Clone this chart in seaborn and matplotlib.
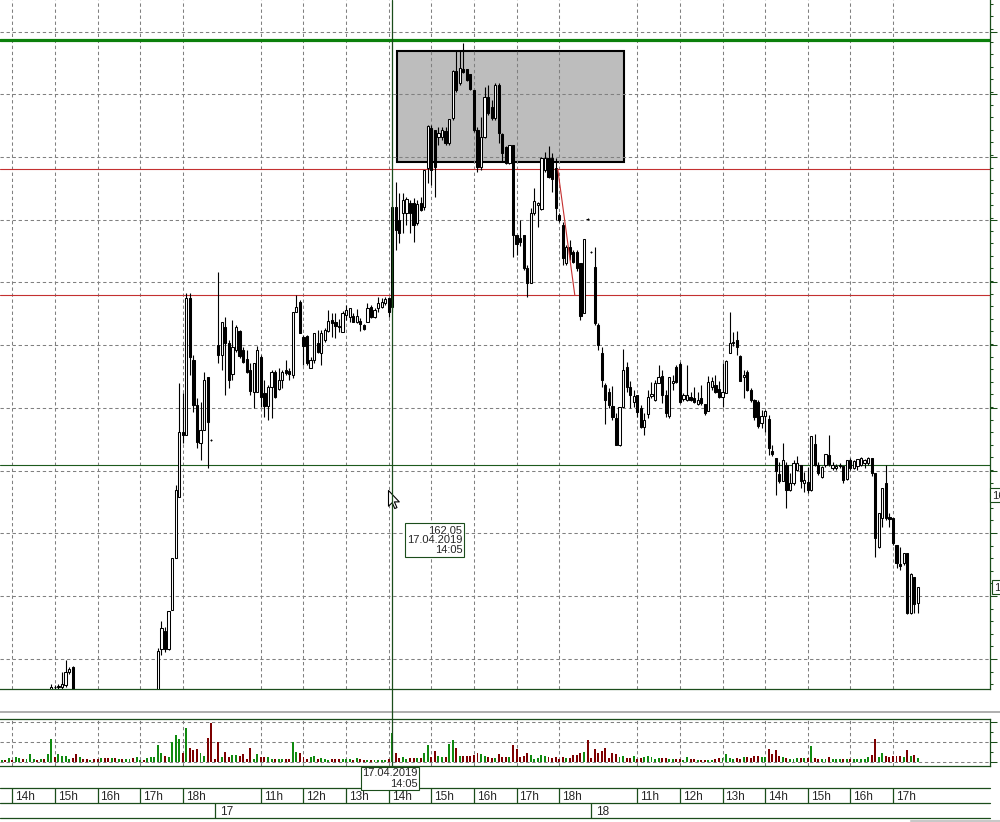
import numpy as np
import pandas as pd
import matplotlib
matplotlib.use("Agg")
import matplotlib.pyplot as plt
import seaborn as sns
from matplotlib.lines import Line2D
from matplotlib.patches import Rectangle
from matplotlib.path import Path
from matplotlib.ticker import AutoMinorLocator, FixedLocator, NullFormatter

NA = np.nan  # no trade printed in that 5-minute slot

# ---------------- sessions (5-minute candles) ----------------
session_dates = ["2019-04-16", "2019-04-17", "2019-04-18"]
session_labels = ["16", "17", "18"]
session_first = ["13:45", "10:00", "10:00"]
session_last = ["18:45", "18:45", "17:35"]

# ---------------- 16.04 ----------------
open_16 = [159.85, 159.88, 159.86, 159.93, 159.90, 159.97, 159.99, 159.97, 160.01, 160.05,
           160.06, 160.03, 160.06, 159.95, 160.00, 160.13, 160.13, 160.13, 160.15, 160.28,
           160.33, 159.98, 159.93, 159.95, 159.92, 159.88, 159.91, 159.89, 159.86, 159.88,
           159.87, 159.84, 159.86, 159.85, 159.89, 159.87, 159.90, 159.92, 159.91, 159.95,
           159.97, 159.94, 159.98, 160.01, 160.04, 160.51, 160.69, 160.51, 160.90, 161.42,
           162.03, 162.68, 162.65, 164.02, 163.40, 162.95, 162.57, 162.70, 163.23, 162.60,
           NA]
high_16 = [159.90, 159.92, 159.95, 159.96, 159.98, 160.00, 160.02, 160.03, 160.06, 160.07,
           160.08, 160.07, 160.08, 160.02, 160.16, 160.15, 160.16, 160.28, 160.40, 160.33,
           160.34, 160.02, 159.97, 159.99, 159.96, 159.93, 159.94, 159.92, 159.90, 159.91,
           159.90, 159.88, 159.89, 159.90, 159.92, 159.91, 159.94, 159.95, 159.96, 159.99,
           160.00, 159.99, 160.03, 160.06, 160.52, 160.79, 160.73, 160.89, 161.42, 162.15,
           163.17, 163.07, 164.07, 164.07, 163.45, 163.02, 162.98, 163.28, 163.23, 162.61,
           NA]
low_16 = [159.80, 159.84, 159.85, 159.88, 159.89, 159.94, 159.95, 159.96, 159.98, 160.00,
          160.02, 160.01, 159.93, 159.90, 159.98, 160.11, 160.10, 160.11, 160.13, 160.26,
          159.95, 159.90, 159.88, 159.91, 159.86, 159.85, 159.87, 159.84, 159.83, 159.85,
          159.82, 159.81, 159.83, 159.84, 159.86, 159.85, 159.88, 159.89, 159.90, 159.92,
          159.93, 159.92, 159.95, 159.98, 160.00, 160.45, 160.48, 160.50, 160.90, 161.42,
          162.03, 162.57, 162.65, 163.25, 162.88, 162.52, 162.40, 162.70, 162.32, 162.59,
          NA]
close_16 = [159.88, 159.86, 159.93, 159.90, 159.97, 159.99, 159.97, 160.01, 160.05, 160.06,
            160.03, 160.06, 159.95, 160.00, 160.13, 160.13, 160.14, 160.16, 160.28, 160.31,
            159.98, 159.93, 159.95, 159.92, 159.88, 159.91, 159.89, 159.86, 159.88, 159.87,
            159.84, 159.86, 159.85, 159.89, 159.87, 159.90, 159.92, 159.91, 159.95, 159.97,
            159.94, 159.98, 160.01, 160.04, 160.49, 160.72, 160.51, 160.89, 161.42, 162.10,
            162.68, 162.65, 164.02, 163.43, 162.95, 162.58, 162.70, 163.20, 162.78, 162.60,
            NA]
volume_16 = [100, 100, 200, 100, 250, 200, 150, 150, 400, 150,
             100, 150, 150, 400, 1150, 250, 400, 300, 300, 150,
             200, 400, 250, 150, 150, 100, 150, 150, 200, 200,
             200, 200, 200, 150, 150, 150, 150, 200, 250, 100,
             100, 200, 250, 250, 850, 450, 300, 250, 1000, 1350,
             1150, 450, 1700, 700, 600, 650, 450, 300, 1200, 1950,
             150]

# ---------------- 17.04 ----------------
open_17 = [163.55, 163.45, 163.73, 163.57, 163.26, 163.50, 163.69, 163.50, 163.41, 163.30,
           163.08, 163.08, 163.43, 163.07, 162.94, 163.13, 163.28, 163.11, 163.20, 163.30,
           163.29, 163.25, 163.88, 163.98, 163.63, 163.64, 163.32, 163.40, 163.57, 163.47,
           163.60, 163.69, 163.80, 163.78, 163.74, 163.68, 163.85, 163.83, 163.84, 163.78,
           163.79, 163.75, 163.78, 163.93, 163.83, 163.92, 163.93, 163.97, 164.02, 163.93,
           164.93, 164.80, 164.87, 164.87, 164.97, 164.97, 164.77, 164.97, 164.93, 165.32,
           165.72, 165.70, 165.63, 165.63, 165.69, 165.57, 165.82, 166.29, 166.17, 166.31,
           166.31, 166.26, 166.10, 165.70, 165.33, 165.63, 166.03, 165.93, 165.82, 166.15,
           165.66, 165.53, 165.37, 165.55, 164.65, 164.62, 164.65, 164.32, 164.17, 164.87,
           164.95, 164.91, 165.30, 165.42, 165.42, 165.32, 164.85, 164.75, 164.37, 164.53,
           164.48, 164.48, 164.37, 163.87, 164.81, 164.48]
high_17 = [164.28, 163.78, 163.83, 163.60, 163.80, 163.75, 163.70, 163.53, 163.50, 163.37,
           163.37, 163.54, 163.45, 163.20, 163.15, 163.30, 163.30, 163.32, 163.30, 163.40,
           163.32, 163.88, 164.05, 164.00, 163.65, 163.65, 163.43, 163.67, 163.70, 163.70,
           163.72, 163.90, 163.87, 163.87, 163.81, 163.89, 163.95, 163.92, 163.87, 163.91,
           163.82, 163.76, 163.97, 163.95, 163.92, 164.03, 164.02, 164.03, 164.03, 165.00,
           165.18, 165.07, 165.07, 165.03, 165.00, 165.02, 165.00, 165.03, 165.30, 165.75,
           165.75, 165.70, 165.73, 165.73, 165.73, 165.81, 166.30, 166.49, 166.50, 166.57,
           166.31, 166.26, 166.10, 165.73, 165.83, 166.13, 166.15, 166.00, 166.17, 166.17,
           165.67, 165.54, 165.55, 165.55, 164.65, 164.80, 164.65, 164.35, 164.92, 165.12,
           164.98, 165.43, 165.48, 165.54, 165.47, 165.42, 164.87, 164.78, 164.55, 164.60,
           164.50, 164.50, 164.37, 164.61, 164.82, 164.49]
low_17 = [163.37, 163.30, 163.05, 163.12, 163.20, 163.48, 163.42, 163.37, 163.27, 163.05,
          162.92, 163.08, 162.93, 162.83, 162.80, 162.82, 163.02, 163.10, 163.12, 163.25,
          163.20, 163.22, 163.88, 163.67, 163.35, 163.35, 163.32, 163.37, 163.47, 163.35,
          163.58, 163.68, 163.63, 163.62, 163.68, 163.68, 163.80, 163.78, 163.78, 163.77,
          163.69, 163.70, 163.78, 163.82, 163.82, 163.88, 163.92, 163.95, 163.83, 163.88,
          164.50, 164.57, 164.67, 164.75, 164.67, 164.58, 164.75, 164.89, 164.90, 165.17,
          165.15, 165.03, 165.55, 165.60, 165.55, 165.55, 165.80, 166.08, 166.15, 166.27,
          166.19, 166.10, 165.68, 165.28, 165.30, 165.62, 165.85, 165.80, 165.80, 165.57,
          165.38, 165.36, 165.36, 164.43, 164.45, 164.54, 164.30, 164.03, 164.17, 164.85,
          164.73, 164.90, 165.28, 165.22, 165.08, 164.80, 164.78, 164.35, 164.35, 164.40,
          164.37, 164.29, 163.80, 163.87, 164.80, 164.47]
close_17 = [163.45, 163.78, 163.57, 163.20, 163.53, 163.73, 163.44, 163.38, 163.28, 163.09,
            163.37, 163.50, 163.03, 162.94, 163.13, 163.28, 163.03, 163.20, 163.28, 163.27,
            163.26, 163.88, 163.93, 163.67, 163.54, 163.37, 163.40, 163.67, 163.48, 163.67,
            163.70, 163.79, 163.77, 163.74, 163.73, 163.87, 163.90, 163.92, 163.78, 163.84,
            163.76, 163.71, 163.92, 163.83, 163.90, 163.97, 163.98, 164.01, 163.88, 164.93,
            164.70, 164.67, 165.00, 165.01, 164.87, 164.75, 164.96, 164.90, 165.30, 165.74,
            165.30, 165.33, 165.67, 165.70, 165.57, 165.81, 166.29, 166.10, 166.32, 166.28,
            166.20, 166.11, 165.70, 165.33, 165.63, 166.03, 165.87, 165.82, 166.15, 165.67,
            165.47, 165.37, 165.55, 164.65, 164.56, 164.58, 164.32, 164.17, 164.87, 164.99,
            164.97, 165.42, 165.42, 165.23, 165.21, 164.92, 164.80, 164.42, 164.53, 164.46,
            164.38, 164.32, 163.84, 164.61, 164.81, 164.48]
volume_17 = [1000, 250, 500, 250, 350, 350, 300, 400, 150, 700,
             150, 400, 250, 250, 250, 150, 150, 150, 150, 150,
             150, 1000, 500, 450, 250, 150, 250, 300, 150, 200,
             150, 100, 150, 150, 150, 150, 150, 150, 100, 200,
             150, 100, 100, 100, 100, 100, 100, 100, 150, 1450,
             450, 200, 250, 150, 200, 200, 200, 200, 450, 850,
             250, 550, 300, 250, 250, 900, 1100, 700, 300, 300,
             300, 300, 350, 450, 400, 300, 250, 200, 200, 400,
             235, 235, 235, 850, 635, 235, 300, 435, 350, 150,
             165, 350, 300, 235, 185, 235, 135, 250, 185, 185,
             350, 350, 435, 465, 1100, 185]

# ---------------- 18.04 ----------------
open_18 = [164.33, 163.75, 163.47, 163.15, 163.08, 162.94, 162.82, 162.55, 162.93, 163.33,
           163.13, 162.98, 163.05, 162.92, 162.73, 162.86, 163.04, 163.00, 163.17, 163.24,
           163.05, 162.84, 163.17, 163.33, 163.36, 163.01, 163.00, 163.03, 163.02, 162.96,
           163.02, 162.96, 162.89, 163.13, 163.15, 163.11, 163.03, 163.07, 163.47, 163.57,
           163.60, 163.44, 163.23, 163.28, 163.10, 163.00, 162.98, 162.77, 162.84, 162.81,
           162.49, 162.42, 162.26, 162.19, 162.35, 162.10, 162.17, 162.30, 162.35, 162.17,
           162.18, 162.10, 162.56, 162.35, 162.23, 162.35, 162.45, 162.32, 162.32, 162.34,
           162.34, 162.21, 162.40, 162.32, 162.34, 162.35, 162.37, 162.37, 162.42, 162.27,
           161.53, 161.82, 162.17, 161.83, 161.82, 161.55, 161.36, 161.37, 161.47, 160.87,
           161.23, 160.97]
high_18 = [164.53, 163.77, 163.53, 163.17, 163.12, 163.14, 162.87, 162.93, 163.51, 163.38,
           163.19, 163.10, 163.05, 162.95, 162.87, 163.10, 163.18, 163.20, 163.35, 163.30,
           163.10, 163.23, 163.25, 163.35, 163.38, 163.07, 163.35, 163.08, 163.13, 163.08,
           163.15, 162.96, 163.24, 163.23, 163.25, 163.19, 163.37, 163.40, 163.88, 163.68,
           163.69, 163.45, 163.30, 163.30, 163.12, 163.01, 163.00, 162.90, 162.90, 162.85,
           162.55, 162.42, 162.38, 162.57, 162.38, 162.27, 162.40, 162.44, 162.35, 162.28,
           162.33, 162.64, 162.66, 162.38, 162.34, 162.46, 162.65, 162.38, 162.36, 162.37,
           162.34, 162.40, 162.42, 162.40, 162.41, 162.43, 162.41, 162.43, 162.42, 162.27,
           161.87, 162.12, 162.35, 161.87, 161.82, 161.55, 161.53, 161.47, 161.47, 161.27,
           161.23, 161.13]
low_18 = [163.75, 163.50, 163.13, 162.76, 162.92, 162.80, 162.55, 162.54, 162.93, 163.08,
          162.92, 162.93, 162.83, 162.72, 162.65, 162.82, 163.02, 162.99, 163.17, 162.97,
          162.83, 162.82, 163.10, 163.17, 162.97, 162.99, 162.99, 162.99, 162.97, 162.95,
          162.95, 162.85, 162.89, 163.10, 163.07, 163.02, 162.93, 163.07, 163.47, 163.54,
          163.45, 163.19, 163.02, 163.09, 162.98, 162.80, 162.72, 162.72, 162.68, 162.45,
          162.44, 162.05, 162.17, 162.19, 161.92, 162.09, 162.15, 162.29, 162.12, 162.08,
          162.07, 162.09, 162.34, 162.25, 162.22, 162.33, 162.34, 162.30, 162.30, 162.32,
          162.17, 162.20, 162.30, 162.31, 162.30, 162.34, 162.32, 162.35, 162.24, 161.43,
          161.52, 161.73, 161.80, 161.73, 161.55, 161.32, 161.30, 161.35, 160.86, 160.86,
          160.87, 160.87]
close_18 = [163.77, 163.55, 163.20, 163.00, 162.95, 162.83, 162.55, 162.93, 163.30, 163.13,
            163.05, 163.04, 162.88, 162.73, 162.80, 163.03, 163.06, 163.17, 163.23, 163.05,
            162.87, 163.23, 163.19, 163.18, 162.98, 163.05, 163.05, 163.00, 162.98, 163.00,
            162.97, 162.87, 163.18, 163.19, 163.08, 163.03, 163.08, 163.39, 163.57, 163.58,
            163.53, 163.19, 163.25, 163.10, 163.00, 162.83, 162.74, 162.84, 162.89, 162.52,
            162.46, 162.29, 162.19, 162.40, 162.10, 162.17, 162.37, 162.37, 162.19, 162.20,
            162.10, 162.64, 162.35, 162.27, 162.33, 162.46, 162.36, 162.35, 162.34, 162.35,
            162.20, 162.40, 162.32, 162.39, 162.41, 162.42, 162.40, 162.42, 162.27, 161.62,
            161.87, 162.12, 161.82, 161.81, 161.57, 161.37, 161.34, 161.47, 160.87, 161.26,
            160.96, 161.13]
volume_18 = [635, 435, 515, 685, 185, 435, 400, 235, 300, 185,
             185, 300, 135, 185, 235, 300, 235, 135, 165, 165,
             165, 135, 135, 135, 135, 100, 235, 135, 135, 100,
             100, 100, 100, 100, 135, 185, 185, 400, 185, 135,
             165, 135, 235, 235, 165, 265, 300, 235, 235, 635,
             400, 600, 300, 235, 165, 135, 135, 165, 185, 185,
             185, 765, 165, 135, 135, 135, 235, 135, 135, 135,
             135, 135, 135, 135, 135, 135, 135, 235, 350, 1135,
             235, 435, 300, 235, 300, 300, 300, 235, 600, 300,
             350, 185]

# ---------------- drawn objects ----------------
price_grid = [160.41, 161.04, 161.67, 162.29, 162.92, 163.55, 164.18, 164.80, 165.43, 166.06, 166.68]
volume_grid = [0, 1000, 2000]
resistance_level = 166.60
red_levels = [165.31, 164.05]
support_level = 162.35
zone_start, zone_end = "2019-04-17 14:12", "2019-04-18 10:42"
zone_low, zone_high = 165.38, 166.49
trend_start, trend_start_price = "2019-04-17 17:58", 165.31
trend_end, trend_end_price = "2019-04-17 18:22", 164.05
cursor_time = "2019-04-17 14:05"
cursor_price = 162.05
cursor_text = "162,05"
cursor_date_text = "17.04.2019"
cursor_clock_text = "14:05"

# ---------------- assemble ----------------
times = pd.DatetimeIndex(np.concatenate([
    pd.date_range(f"{d} {a}", f"{d} {b}", freq="5min").values
    for d, a, b in zip(session_dates, session_first, session_last)]))
o = np.array(open_16 + open_17 + open_18, dtype=float)
h = np.array(high_16 + high_17 + high_18, dtype=float)
l = np.array(low_16 + low_17 + low_18, dtype=float)
c = np.array(close_16 + close_17 + close_18, dtype=float)
vol = np.array(volume_16 + volume_17 + volume_18, dtype=float)
n = len(times)
assert len(o) == len(h) == len(l) == len(c) == len(vol) == n, (len(o), len(vol), n)
x = np.arange(n)
up = c > o
ok = ~np.isnan(o)


def time_to_x(ts):
    ts = pd.Timestamp(ts)
    base = ts.floor("5min")
    k = times.get_loc(base)
    return k + (ts - base) / pd.Timedelta("5min")


session_start_idx = [times.get_loc(pd.Timestamp(f"{d} {a}")) for d, a in zip(session_dates, session_first)]
hour_idx, hour_lab = [], []
for k, t in enumerate(times):
    if t.minute == 0 and k not in session_start_idx:
        hour_idx.append(k)
        hour_lab.append(f"{t.hour}h")
day_sep = [s - 1 for s in session_start_idx[1:]]
day_lab = session_labels[1:]

# ---------------- style ----------------
sns.set_style("white")
plt.rcParams["font.family"] = ["Liberation Sans", "DejaVu Sans"]
plt.rcParams["font.size"] = 8

GRID = "#808080"
FRAME = "#1b4d1b"
DASH = (0, (3.2, 2.6))
VOL_UP = "#108a10"
VOL_DN = "#7d0000"
RED = "#c43030"

W, H = 1000, 822
fig = plt.figure(figsize=(W / 100, H / 100), dpi=100)
fig.patch.set_facecolor("white")
ax = fig.add_axes([0, 1 - 689 / H, 990 / W, 689 / H])
axv = fig.add_axes([0, 1 - 766 / H, 990 / W, 46.7 / H])
axt = fig.add_axes([0, 1 - 818.3 / H, 990 / W, 30 / H])
XLIM = (-0.464, 278.33)

# ---------------- price panel ----------------
for xv in hour_idx:
    ax.axvline(xv, color=GRID, lw=0.75, ls=DASH, zorder=1)
for yv in price_grid:
    ax.axhline(yv, color=GRID, lw=0.75, ls=DASH, zorder=1)

zx0, zx1 = time_to_x(zone_start), time_to_x(zone_end)
ax.add_patch(Rectangle((zx0, zone_low), zx1 - zx0, zone_high - zone_low,
                       facecolor="#bdbdbd", edgecolor="black", lw=1.5, zorder=0.8))

ax.axhline(resistance_level, color="#0b800b", lw=2.3, zorder=2)
for rl in red_levels:
    ax.axhline(rl, color=RED, lw=0.8, zorder=2)
ax.axhline(support_level, color="#1d5a1d", lw=0.8, zorder=2)

ax.vlines(x[ok], l[ok], h[ok], color="black", lw=0.8, zorder=3)
ax.bar(x[ok], np.abs(c - o)[ok], bottom=np.minimum(o, c)[ok], width=0.62,
       color=np.where(up, "white", "black")[ok], edgecolor="black", linewidth=0.75, zorder=4)

ax.plot([time_to_x(trend_start), time_to_x(trend_end)], [trend_start_price, trend_end_price],
        color=RED, lw=0.8, zorder=5)

ax.set_xlim(*XLIM)
ax.set_ylim(160.11, 167.00)
ax.set_xticks([])
ax.yaxis.tick_right()
ax.yaxis.set_major_locator(FixedLocator(price_grid))
ax.yaxis.set_minor_locator(AutoMinorLocator(5))
ax.yaxis.set_major_formatter(NullFormatter())
ax.tick_params(axis="y", which="major", length=5, width=0.75, color=FRAME,
               right=True, left=False, labelright=False, labelleft=False)
ax.tick_params(axis="y", which="minor", length=2.2, width=0.75, color=FRAME, right=True, left=False)
for s in ["top", "left"]:
    ax.spines[s].set_visible(False)
for s in ["right", "bottom"]:
    ax.spines[s].set_color(FRAME)
    ax.spines[s].set_linewidth(0.9)

cx = time_to_x(cursor_time)
ax.annotate(f"{cursor_text}\n{cursor_date_text}\n{cursor_clock_text}", xy=(cx, cursor_price),
            xytext=(70, -30), textcoords="offset pixels", ha="right", va="top",
            multialignment="right", fontsize=8, linespacing=1.0, zorder=11,
            bbox=dict(boxstyle="square,pad=0.2", fc="white", ec=FRAME, lw=0.8))

# price label boxes on the (cut) right price scale
ax.annotate(cursor_text, xy=(1, cursor_price), xycoords=("axes fraction", "data"),
            xytext=(2, 0), textcoords="offset pixels", ha="left", va="center", fontsize=8,
            annotation_clip=False, bbox=dict(boxstyle="square,pad=0.15", fc="white", ec=FRAME, lw=0.8))
ax.annotate(f"{c[-1]:.2f}".replace(".", ","), xy=(1, c[-1]), xycoords=("axes fraction", "data"),
            xytext=(4, 0), textcoords="offset pixels", ha="left", va="center", fontsize=8,
            annotation_clip=False, bbox=dict(boxstyle="square,pad=0.15", fc="white", ec=FRAME, lw=0.8))

# mouse pointer
arrow = Path([(0, 0), (0, -16), (3.8, -12.4), (6.4, -18.4), (8.6, -17.4), (6.0, -11.6), (11, -11.6), (0, 0)],
             [Path.MOVETO] + [Path.LINETO] * 6 + [Path.CLOSEPOLY])
ax.plot([cx - 1.1], [cursor_price + 0.05], marker=arrow, ms=26, mfc="white", mec="black",
        mew=0.8, zorder=12, clip_on=False, ls="none")

# ---------------- volume panel ----------------
for xv in hour_idx:
    axv.axvline(xv, color=GRID, lw=0.75, ls=DASH, zorder=1)
for yv in volume_grid:
    axv.axhline(yv, color=GRID, lw=0.75, ls=DASH, zorder=1)
vdf = pd.DataFrame({"x": x, "vol": vol, "dir": np.where(up, "up", "down")})
sns.barplot(data=vdf, x="x", y="vol", hue="dir", palette={"up": VOL_UP, "down": VOL_DN},
            native_scale=True, width=0.55, dodge=False, errorbar=None, legend=False,
            saturation=1, linewidth=0, ax=axv, zorder=3)
axv.set_xlim(*XLIM)
axv.set_ylim(-215, 2120)
axv.set_xlabel("")
axv.set_ylabel("")
axv.set_xticks([])
axv.yaxis.tick_right()
axv.yaxis.set_major_locator(FixedLocator(volume_grid))
axv.yaxis.set_minor_locator(AutoMinorLocator(2))
axv.yaxis.set_major_formatter(NullFormatter())
axv.tick_params(axis="y", which="major", length=5, width=0.75, color=FRAME,
                right=True, left=False, labelright=False, labelleft=False)
axv.tick_params(axis="y", which="minor", length=2.2, width=0.75, color=FRAME, right=True, left=False)
axv.spines["left"].set_visible(False)
for s in ["top", "right", "bottom"]:
    axv.spines[s].set_color(FRAME)
    axv.spines[s].set_linewidth(0.9)

# ---------------- time scale ----------------
axt.set_xlim(*XLIM)
axt.set_ylim(0, 2)
axt.axis("off")
for yv in (0, 1, 2):
    axt.axhline(yv, color=FRAME, lw=0.9, clip_on=False)
axt.vlines(hour_idx, 1, 2, color=FRAME, lw=0.9)
axt.vlines(day_sep, 0, 1, color=FRAME, lw=0.9)
for xv, lab in zip(hour_idx, hour_lab):
    axt.text(xv + 0.8, 1.22, lab, ha="left", va="baseline", fontsize=8.5)
for xv, lab in zip(day_sep, day_lab):
    axt.text(xv + 1.4, 0.22, lab, ha="left", va="baseline", fontsize=8.5)
axt.annotate(f"{cursor_date_text}\n{cursor_clock_text}", xy=(cx, 2), xytext=(25, 20),
             textcoords="offset pixels", ha="right", va="top", multialignment="right",
             fontsize=8, linespacing=1.05, zorder=10, annotation_clip=False,
             bbox=dict(boxstyle="square,pad=0.12", fc="white", ec=FRAME, lw=0.8))

# ---------------- separators & crosshair ----------------
fig.add_artist(Line2D([0, 1], [1 - 712 / H] * 2, color="#a8a8a8", lw=1.3))
fig.add_artist(Line2D([911 / W, 1], [1 - 820.5 / H] * 2, color="#c8c8c8", lw=1.5))
px = ax.transData.transform((cx, 0))[0] / (fig.get_figwidth() * fig.dpi)
fig.add_artist(Line2D([px, px], [1 - 766 / H, 1], color=FRAME, lw=0.9, zorder=5))

fig.savefig("out.png", dpi=100, facecolor="white")
